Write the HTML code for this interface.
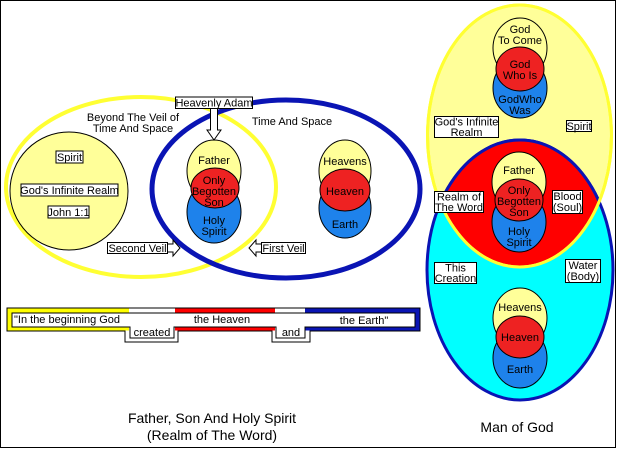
<!DOCTYPE html>
<html><head><meta charset="utf-8"><style>
html,body{margin:0;padding:0;background:#fff;}
svg{display:block;font-family:"Liberation Sans",Arial,sans-serif;}
text{font-size:11px;fill:#000;}
</style></head><body>
<svg width="617" height="449" viewBox="0 0 617 449" xmlns="http://www.w3.org/2000/svg">
<defs>
<clipPath id="cy"><ellipse cx="519.5" cy="136" rx="92" ry="131"/></clipPath>
</defs>
<rect x="0.5" y="0.5" width="615" height="447" fill="#fff" stroke="#000"/>

<!-- LEFT DIAGRAM -->
<ellipse cx="141" cy="187" rx="135" ry="90" fill="none" stroke="#ffff33" stroke-width="4"/>
<ellipse cx="286" cy="189" rx="134" ry="89" fill="none" stroke="#0a14b4" stroke-width="5"/>
<circle cx="69" cy="191" r="59" fill="#ffff99" stroke="#000" stroke-width="1"/>
<rect x="56" y="151" width="27" height="12" fill="#fff" stroke="#000"/>
<text x="69.5" y="161" text-anchor="middle">Spirit</text>
<rect x="21" y="184" width="97" height="12" fill="#fff" stroke="#000"/>
<text x="69.5" y="194" text-anchor="middle">God's Infinite Realm</text>
<rect x="48" y="206" width="41" height="12" fill="#fff" stroke="#000"/>
<text x="68.5" y="216" text-anchor="middle">John 1:1</text>

<text x="133" y="121" text-anchor="middle">Beyond The Veil of</text>
<text x="133" y="132" text-anchor="middle">Time And Space</text>
<text x="292" y="125" text-anchor="middle">Time And Space</text>

<!-- trinity left -->
<ellipse cx="214" cy="171" rx="27" ry="31" fill="#ffff99" stroke="#000"/>
<ellipse cx="214" cy="212" rx="27" ry="31" fill="#1e82eb" stroke="#000"/>
<ellipse cx="215" cy="188" rx="24" ry="20" fill="#ee2222" stroke="#000"/>
<text x="214" y="164" text-anchor="middle">Father</text>
<text x="214" y="184" text-anchor="middle">Only</text>
<text x="214" y="195" text-anchor="middle">Begotten</text>
<text x="214" y="206" text-anchor="middle">Son</text>
<text x="214" y="224" text-anchor="middle">Holy</text>
<text x="214" y="235" text-anchor="middle">Spirit</text>

<!-- heavens group -->
<ellipse cx="345" cy="171" rx="26" ry="31" fill="#ffff99" stroke="#000"/>
<ellipse cx="345" cy="208" rx="26" ry="30" fill="#1e82eb" stroke="#000"/>
<ellipse cx="345" cy="190" rx="25" ry="21" fill="#ee2222" stroke="#000"/>
<text x="345" y="165" text-anchor="middle">Heavens</text>
<text x="345" y="195" text-anchor="middle">Heaven</text>
<text x="345" y="228" text-anchor="middle">Earth</text>

<!-- Heavenly Adam -->
<path d="M210.5,108 V130 H207 L214,140 L221,130 H217.5 V108" fill="#fff" stroke="#000"/>
<rect x="175.5" y="97" width="77" height="11.5" fill="#fff" stroke="#000"/>
<text x="214" y="106.5" text-anchor="middle">Heavenly Adam</text>

<!-- veils -->
<path d="M167,244 H173 V240 L180,248 L173,256 V252 H167" fill="#fff" stroke="#000"/>
<rect x="107.5" y="242.5" width="60" height="11" fill="#fff" stroke="#000"/>
<text x="137.5" y="252" text-anchor="middle">Second Veil</text>
<path d="M262,244 H256 V240 L249,248 L256,256 V252 H262" fill="#fff" stroke="#000"/>
<rect x="261.5" y="242.5" width="44" height="11" fill="#fff" stroke="#000"/>
<text x="283.5" y="252" text-anchor="middle">First Veil</text>

<!-- bar -->
<path d="M7,308 H420 V331 H310 V342 H272 V331 H178 V342 H125 V331 H7 Z" fill="#fff" stroke="#000"/>
<rect x="7.5" y="308.5" width="121.5" height="22" fill="#ffff00"/>
<rect x="175" y="308.5" width="100" height="22" fill="#ff0000"/>
<rect x="305" y="308.5" width="114.5" height="22" fill="#0a14b4"/>
<path d="M7,308 H420 V331 H310 V342 H272 V331 H178 V342 H125 V331 H7 Z" fill="none" stroke="#000"/>
<path d="M12,313 H415 V327 H305 V338 H276 V327 H174 V338 H130 V327 H12 Z" fill="#fff" stroke="#000"/>
<text x="14" y="323">"In the beginning God</text>
<text x="222" y="323" text-anchor="middle">the Heaven</text>
<text x="364" y="324" text-anchor="middle">the Earth"</text>
<text x="152" y="336" text-anchor="middle">created</text>
<text x="291" y="336" text-anchor="middle">and</text>

<text x="212" y="423" text-anchor="middle" style="font-size:14px">Father, Son And Holy Spirit</text>
<text x="212" y="440" text-anchor="middle" style="font-size:14px">(Realm of The Word)</text>

<!-- RIGHT DIAGRAM -->
<ellipse cx="519.5" cy="136" rx="92" ry="131" fill="#ffff99" stroke="#ffff33" stroke-width="3"/>
<ellipse cx="520" cy="270" rx="93" ry="130" fill="#00ffff" stroke="#0a14b4" stroke-width="3"/>
<ellipse cx="520" cy="270" rx="93" ry="130" fill="#ff0000" clip-path="url(#cy)"/>
<ellipse cx="520" cy="270" rx="93" ry="130" fill="none" stroke="#0a14b4" stroke-width="3" clip-path="url(#cy)"/>
<path d="M427.5,136 A92,131 0 0 0 611.5,136" fill="none" stroke="#ffff33" stroke-width="3" clip-path="url(#cy)"/>
<ellipse cx="519.5" cy="136" rx="92" ry="131" fill="none" stroke="#ffff33" stroke-width="3" clip-path="url(#cb)"/>

<!-- top trinity -->
<ellipse cx="520" cy="48" rx="27" ry="30" fill="#ffff99" stroke="#000"/>
<ellipse cx="520" cy="88" rx="27" ry="30" fill="#1e82eb" stroke="#000"/>
<ellipse cx="520" cy="69" rx="24" ry="22" fill="#ee2222" stroke="#000"/>
<text x="520" y="33" text-anchor="middle">God</text>
<text x="520" y="44" text-anchor="middle">To Come</text>
<text x="520" y="68" text-anchor="middle">God</text>
<text x="520" y="79" text-anchor="middle">Who Is</text>
<text x="520" y="103" text-anchor="middle">GodWho</text>
<text x="520" y="114" text-anchor="middle">Was</text>

<!-- middle trinity -->
<ellipse cx="519" cy="182" rx="27" ry="30" fill="#ffff99" stroke="#000"/>
<ellipse cx="519" cy="222" rx="27" ry="30" fill="#1e82eb" stroke="#000"/>
<ellipse cx="519" cy="200" rx="24" ry="21" fill="#ee2222" stroke="#000"/>
<text x="519" y="174" text-anchor="middle">Father</text>
<text x="519" y="194" text-anchor="middle">Only</text>
<text x="519" y="205" text-anchor="middle">Begotten</text>
<text x="519" y="216" text-anchor="middle">Son</text>
<text x="519" y="235" text-anchor="middle">Holy</text>
<text x="519" y="246" text-anchor="middle">Spirit</text>

<!-- bottom group -->
<ellipse cx="520" cy="318" rx="27" ry="30" fill="#ffff99" stroke="#000"/>
<ellipse cx="520" cy="358" rx="27" ry="30" fill="#1e82eb" stroke="#000"/>
<ellipse cx="520" cy="337" rx="24" ry="21" fill="#ee2222" stroke="#000"/>
<text x="520" y="311" text-anchor="middle">Heavens</text>
<text x="520" y="341" text-anchor="middle">Heaven</text>
<text x="520" y="373" text-anchor="middle">Earth</text>

<!-- right labels -->
<rect x="434.5" y="116.5" width="64" height="21" fill="#fff" stroke="#000"/>
<text x="466.5" y="125.5" text-anchor="middle">God's Infinite</text>
<text x="466.5" y="136" text-anchor="middle">Realm</text>
<rect x="566.5" y="120.5" width="25" height="11" fill="#fff" stroke="#000"/>
<text x="579" y="130" text-anchor="middle">Spirit</text>
<rect x="434.5" y="191.5" width="49" height="21" fill="#fff" stroke="#000"/>
<text x="459" y="200.5" text-anchor="middle">Realm of</text>
<text x="459" y="211" text-anchor="middle">The Word</text>
<rect x="552.5" y="190.5" width="30" height="23" fill="#fff" stroke="#000"/>
<text x="567.5" y="200" text-anchor="middle">Blood</text>
<text x="567.5" y="211" text-anchor="middle">(Soul)</text>
<rect x="434.5" y="262.5" width="42" height="21" fill="#fff" stroke="#000"/>
<text x="455.5" y="271.5" text-anchor="middle">This</text>
<text x="455.5" y="282" text-anchor="middle">Creation</text>
<rect x="565.5" y="259.5" width="35" height="23" fill="#fff" stroke="#000"/>
<text x="583" y="269" text-anchor="middle">Water</text>
<text x="583" y="280" text-anchor="middle">(Body)</text>

<text x="517" y="432" text-anchor="middle" style="font-size:14px">Man of God</text>
</svg>
</body></html>
